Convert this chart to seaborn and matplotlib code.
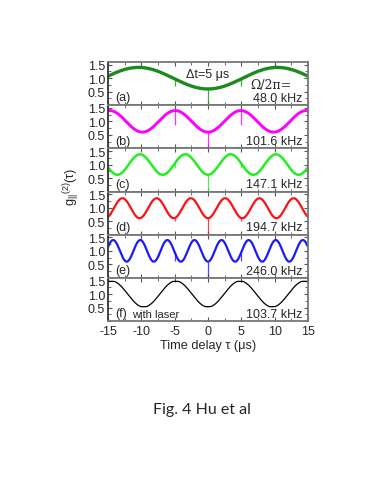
import numpy as np
import pandas as pd
import matplotlib
matplotlib.use("Agg")
import matplotlib.pyplot as plt
from matplotlib.ticker import MultipleLocator
import seaborn as sns

sns.set_theme(style="white")
plt.rcParams['font.family'] = ['Liberation Sans', 'DejaVu Sans']
plt.rcParams['axes.unicode_minus'] = False
plt.rcParams['mathtext.fontset'] = 'custom'
plt.rcParams['mathtext.rm'] = 'Liberation Sans'
plt.rcParams['mathtext.it'] = 'Liberation Sans'

# ---- data ----
panel_labels = ["(a)", "(b)", "(c)", "(d)", "(e)", "(f)"]
freq_khz = [48.0, 101.6, 147.1, 194.7, 246.0, 103.7]
freq_text = ["48.0 kHz", "101.6 kHz", "147.1 kHz", "194.7 kHz", "246.0 kHz", "103.7 kHz"]
curve_min = [0.60, 0.60, 0.62, 0.61, 0.60, 0.53]
curve_max = [1.40, 1.40, 1.38, 1.35, 1.40, 1.47]
clip_amp = [0.0, 0.0, 0.0, 0.0, 0.0, 0.485]        # (f) has slightly flattened extrema
spike_tau = [-5.0, 0.0, 5.0]
spike_bottom = [
    [0.72, 0.0, 0.72],
    [0.85, 0.0, 0.85],
    [0.88, 0.0, 0.88],
    [0.50, 0.0, 0.50],
    [0.62, 0.0, 0.62],
    None,
]
colors = ["#1c8a1c", "#ff00ff", "#22ee22", "#ff1111", "#1a1aff", "#000000"]
widths = [2.4, 2.1, 1.8, 1.6, 1.6, 0.9]
x_ticks = [-15, -10, -5, 0, 5, 10, 15]
y_ticks = [0.5, 1.0, 1.5]

tau = np.linspace(-15, 15, 1201)

W, H = 382, 485
fig = plt.figure(figsize=(W / 100, H / 100), dpi=100)
left_px, right_px = 108, 308
top_px, bot_px = 63, 322
ph = (bot_px - top_px) / 6.0
fs = 9.0

axes = []
for i in range(6):
    y0 = 1 - (top_px + (i + 1) * ph) / H
    ax = fig.add_axes([left_px / W, y0, (right_px - left_px) / W, ph / H])
    axes.append(ax)
    mid = 0.5 * (curve_min[i] + curve_max[i])
    amp = 0.5 * (curve_max[i] - curve_min[i])
    a_use = clip_amp[i] if clip_amp[i] > 0 else amp
    g = mid - a_use * np.cos(2 * np.pi * freq_khz[i] * 1e-3 * tau)
    g = np.clip(g, curve_min[i], curve_max[i])
    df = pd.DataFrame({"tau": tau, "g": g})
    sns.lineplot(data=df, x="tau", y="g", ax=ax, color=colors[i],
                 linewidth=widths[i], legend=False)
    if spike_bottom[i] is not None:
        for t, b in zip(spike_tau, spike_bottom[i]):
            top = mid - amp * np.cos(2 * np.pi * freq_khz[i] * 1e-3 * t)
            ax.vlines(t, b, top, color=colors[i], linewidth=0.9, alpha=0.8)
    ax.set_xlim(-15, 15)
    ax.set_ylim(0.0, 1.6)
    ax.set_xticks(x_ticks)
    ax.set_yticks(y_ticks)
    ax.xaxis.set_minor_locator(MultipleLocator(2.5))
    ax.yaxis.set_minor_locator(MultipleLocator(0.25))
    ax.tick_params(which="both", direction="in", top=True, right=True,
                   bottom=True, left=True, color="#555555", pad=2)
    ax.tick_params(which="major", length=3, width=0.8)
    ax.tick_params(which="minor", length=2, width=0.6)
    ax.tick_params(axis="y", labelsize=fs)
    ax.set_yticklabels(["0.5", "1.0", "1.5"])
    ax.set_xlabel("")
    ax.set_ylabel("")
    for s in ax.spines.values():
        s.set_color("#777777")
        s.set_linewidth(1.3)
    ax.spines["left"].set_color("#333333")
    if i < 5:
        ax.tick_params(axis="x", labelbottom=False)
    else:
        ax.tick_params(axis="x", labelsize=fs, pad=3)
    ax.text(-13.9, 0.29, panel_labels[i], fontsize=fs, ha="left", va="center")
    ax.text(14.2, 0.27, freq_text[i], fontsize=fs, ha="right", va="center")

axes[0].text(-0.1, 1.17, "Δt=5 μs", fontsize=fs, ha="center", va="center")
axes[0].text(9.4, 0.78, "Ω/2π=", fontsize=fs, ha="center", va="center",
             family=["DejaVu Serif"])
axes[5].text(-11.4, 0.27, "with laser", fontsize=8.0, ha="left", va="center")

axes[5].set_xlabel("Time delay τ (μs)", fontsize=9.2, labelpad=1)
fig.text(72 / W, 1 - 187 / H, r"g$_{||}$$^{(2)}$(τ)", rotation=90,
         fontsize=9.2, ha="center", va="center")

fig.text(202 / W, 1 - 410 / H, "Fig. 4 Hu et al", fontsize=11.5,
         ha="center", va="center", family=["Lato", "DejaVu Sans"])

fig.savefig("out.png", dpi=100, facecolor="white")
